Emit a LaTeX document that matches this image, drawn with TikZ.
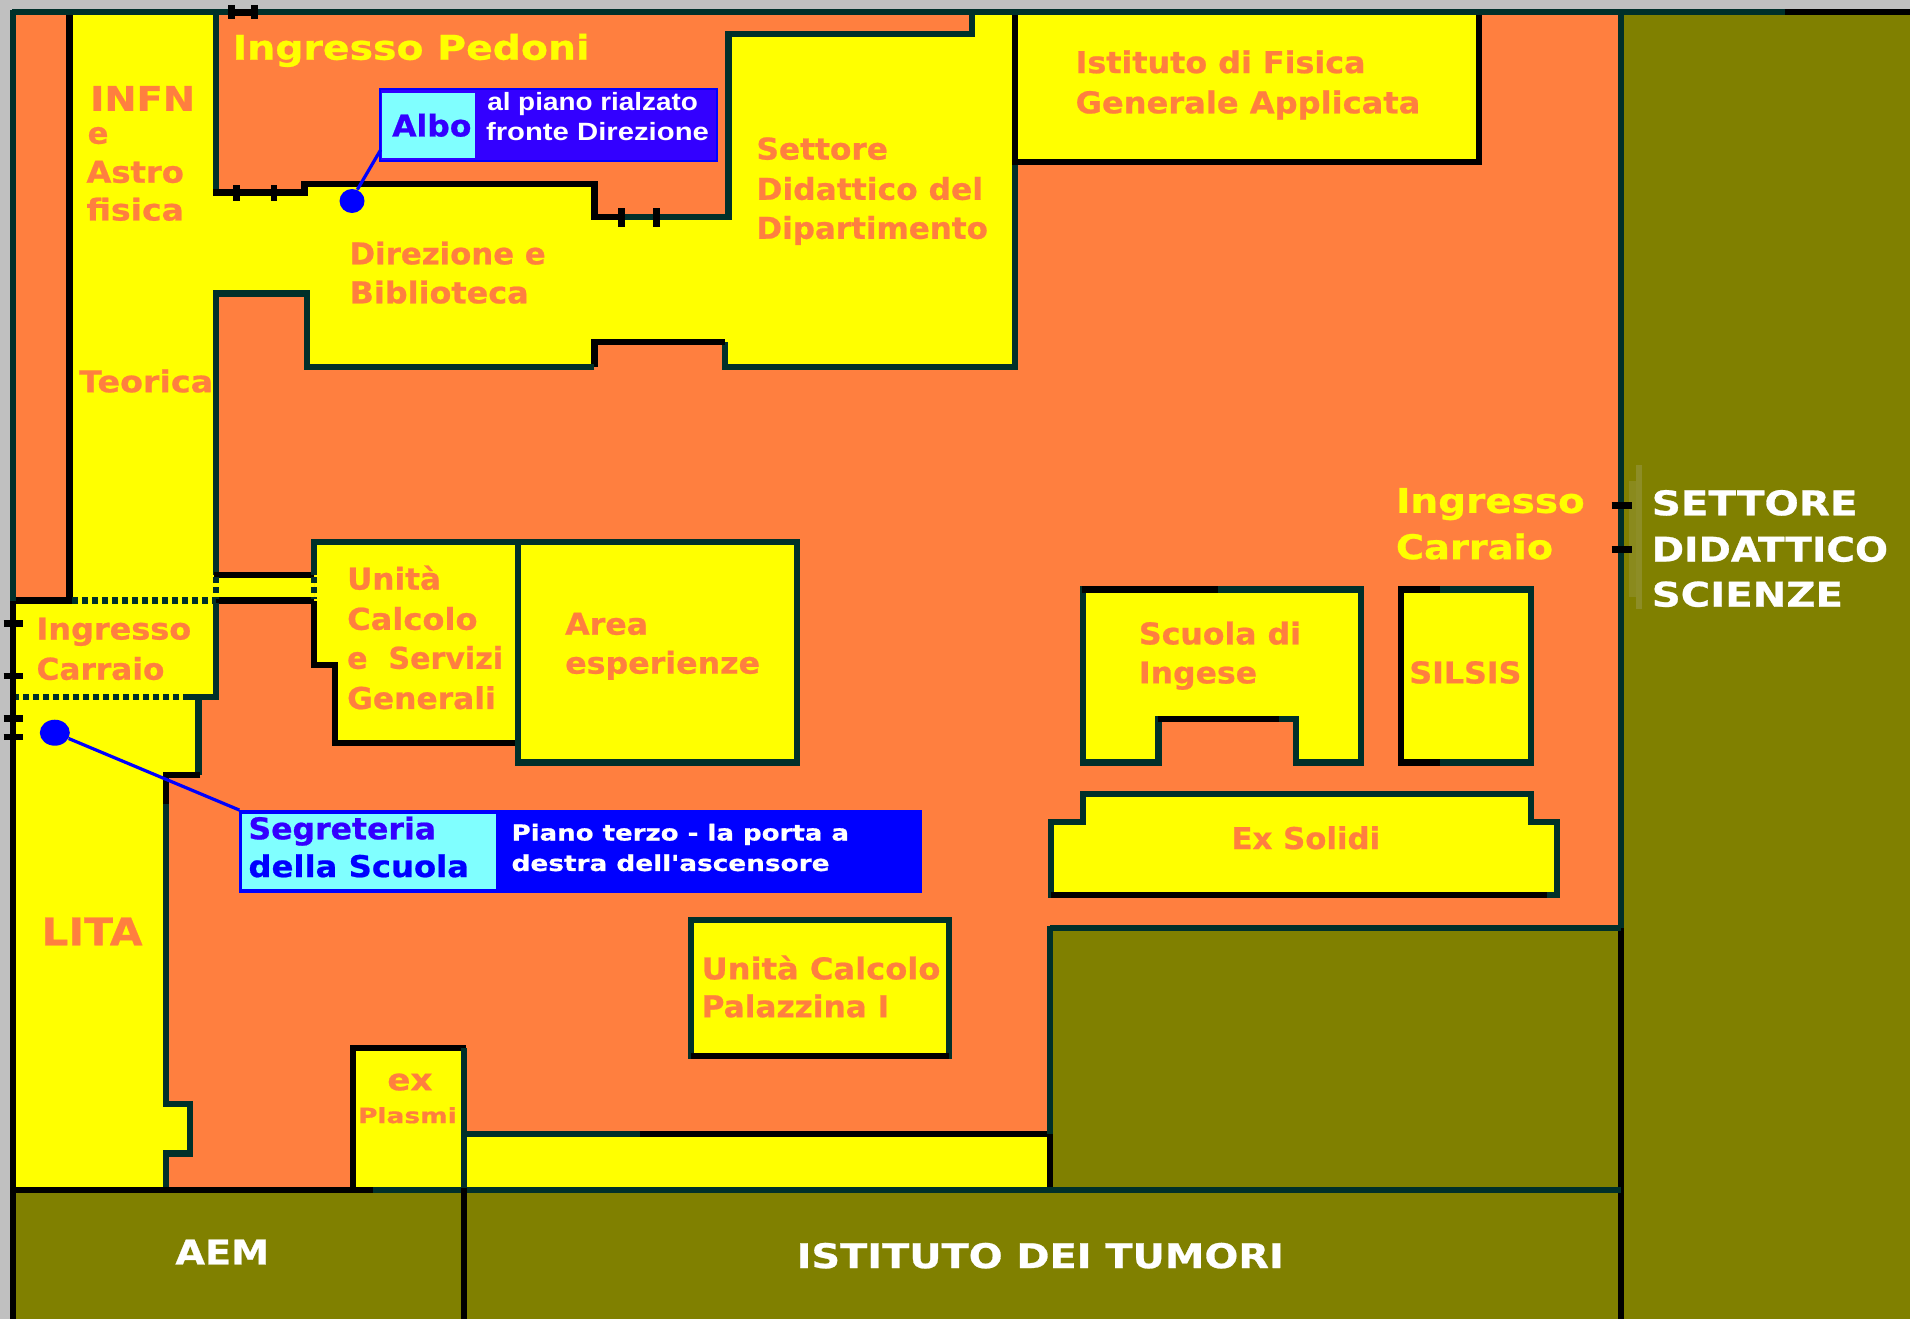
\documentclass[tikz,border=0pt]{standalone}
\usepackage{fontspec}
\usepackage{graphicx}
\usetikzlibrary{shapes.geometric}
\setmainfont{DejaVu Sans}
\newfontfamily\fb{DejaVu Sans}[BoldFont={DejaVu Sans Bold},BoldFeatures={FakeBold=0.7}]
\newfontfamily\fl{Liberation Sans}[BoldFont={Liberation Sans Bold}]
\definecolor{bgor}{HTML}{FF7F3F}
\definecolor{ygl}{HTML}{FFFF00}
\definecolor{olv}{HTML}{808000}
\definecolor{wdk}{HTML}{00302A}
\definecolor{cyn}{HTML}{80FFFF}
\definecolor{blu}{HTML}{0000FF}
\definecolor{vio}{HTML}{3300FF}
\definecolor{gry}{HTML}{C0C0C0}
\newcommand\tor{\fb\bfseries\color{bgor}}
\newcommand\tye{\fb\bfseries\color{ygl}}
\newcommand\twh{\fb\bfseries\color{white}}
\newcommand\tbl{\fb\bfseries\color{blu}}
\newcommand\tvi{\fb\bfseries\color{vio}}
\newcommand\twl{\fl\bfseries\color{white}}
\newsavebox\lbox
\newlength\lwid
% name, font+colour, size(pt), x, baseline y, x2, text
\newcommand\lab[7]{%
  \node[anchor=base west,inner sep=0pt,outer sep=0pt] (#1) at (#4,#5) {%
    \sbox\lbox{\fontsize{#3}{#3}\selectfont#2 #7}%
    \setlength\lwid{\wd\lbox}%
    \pgfmathsetmacro\fitx{(#6-#4)*0.609/\the\lwid}%
    \scalebox{\fitx}[1]{\usebox\lbox}};%
}
\tikzset{
  wall/.style={draw=wdk,line width=3.1pt,line join=miter,line cap=butt},
  bwall/.style={draw=black,line width=3.1pt,line join=miter,line cap=butt},
  dotted wall/.style={draw=wdk,line width=3.1pt,dash pattern=on 3pt off 2pt},
  tick/.style={draw=black,line width=3.4pt},
  bld/.style={fill=ygl},
  lead/.style={draw=blu,line width=1.6pt},
  pin/.style={fill=blu},
}
\begin{document}
\begin{tikzpicture}[x=0.609pt,y=-0.609pt]
\useasboundingbox (0,0) rectangle (1568,1083);
\fill[gry] (0,0) rectangle (1568,1083);
\fill[bgor] (11,10) rectangle (1331,977);
% olive areas
\fill[olv] (1331,10) rectangle (1568,1083);
\fill[olv] (11,977) rectangle (1331,1083);
\fill[olv] (862,762) rectangle (1331,977);
\fill[color=olv!80!gry] (1343,382) rectangle (1348,500);
\fill[color=olv!85!gry] (1337,395) rectangle (1343,490);
% main building fill
\fill[bld] (57,10) -- (177,10) -- (177,158) -- (250,158) -- (250,151) -- (488,151) -- (488,178) -- (598,178) -- (598,28) -- (798,28) -- (798,10) -- (833,10) -- (833,301) -- (595,301) -- (595,281) -- (488,281) -- (488,301) -- (252,301) -- (252,241) -- (177,241) -- (177,472) -- (258,472) -- (258,493) -- (177,493) -- (177,572) -- (163,572) -- (163,636) -- (136,636) -- (136,906) -- (156,906) -- (156,947) -- (136,947) -- (136,977) -- (11,977) -- (11,493) -- (57,493) -- cycle;
% main building walls
\draw[bwall] (57,10) -- (57,493) -- (11,493);
\draw[dotted wall] (59,493) -- (177,493);
\draw[dotted wall] (11,572) -- (150,572);
\draw[wall] (177,10) -- (177,160);
\draw[bwall] (175,158) -- (250,158) -- (250,151) -- (488,151) -- (488,178) -- (510,178);
\draw[wall] (510,178) -- (598,178) -- (598,28) -- (798,28) -- (798,10);
\draw[wall] (833,10) -- (833,301) -- (595,301) -- (595,281);
\draw[bwall] (595,281) -- (488,281) -- (488,301);
\draw[wall] (488,301) -- (252,301) -- (252,241) -- (177,241) -- (177,472);
\draw[bwall] (175.5,472) -- (258,472);
\draw[bwall] (177,493) -- (258,493);
\draw[dotted wall] (177,474) -- (177,492);
\draw[wall] (177,495) -- (177,572) -- (150,572);
\draw[wall] (163,572) -- (163,636);
\draw[bwall] (164.5,636) -- (136,636) -- (136,660);
\draw[wall] (136,660) -- (136,906) -- (156,906) -- (156,947) -- (136,947) -- (136,977);
% Istituto di Fisica
\fill[bld] (833,10) rectangle (1214,133);
\draw[bwall] (833,10) -- (833,133) -- (1214,133) -- (1214,10);
% Unita Calcolo e Servizi
\fill[bld] (258,445) -- (425,445) -- (425,610) -- (275,610) -- (275,546) -- (258,546) -- cycle;
\draw[wall] (258,472) -- (258,445) -- (425,445) -- (425,610);
\draw[bwall] (425,610) -- (275,610) -- (275,546) -- (258,546) -- (258,493);
\draw[dotted wall] (258,474) -- (258,492);
% Area esperienze
\draw[wall,bld] (425,445) rectangle (654,626);
% Scuola di Ingese
\draw[wall,bld] (889,484) -- (1117,484) -- (1117,626) -- (1064,626) -- (1064,590) -- (951,590) -- (951,626) -- (889,626) -- cycle;
\draw[bwall] (888,484) -- (1000,484);
\draw[bwall] (951,590) -- (1050,590);
% SILSIS
\draw[wall,bld] (1150,484) rectangle (1257,626);
\draw[bwall] (1182,484) -- (1150,484) -- (1150,626) -- (1182,626);
% Ex Solidi
\draw[wall,bld] (889,652) -- (1257,652) -- (1257,675) -- (1278,675) -- (1278,735) -- (863,735) -- (863,675) -- (889,675) -- cycle;
\draw[bwall] (863,735) -- (1270,735);
% Unita Calcolo Palazzina
\draw[wall,bld] (567,755) rectangle (779,867);
\draw[bwall] (567,867) -- (779,867);
% ex Plasmi and strip
\fill[bld] (290,860) rectangle (381,977);
\fill[bld] (381,931) rectangle (862,977);
\draw[bwall] (290,977) -- (290,860) -- (382.5,860);
\draw[wall] (381,860) -- (381,977);
\draw[wall] (381,931) -- (525,931);
\draw[bwall] (525,931) -- (862,931);
% outer walls
\draw[wall] (10,10) -- (1568,10);
\draw[wall] (11,8.5) -- (11,493);
\draw[bwall] (11,493) -- (11,1083);
\draw[wall] (1331,10) -- (1331,762);
\draw[bwall] (1331,762) -- (1331,1083);
\draw[wall] (862,762) -- (1331,762);
\draw[wall] (862,760.5) -- (862,931);
\draw[bwall] (862,931) -- (862,977);
\draw[wall] (306,977) -- (1331,977);
\draw[bwall] (11,977) -- (306,977);
\draw[bwall] (381,975) -- (381,1083);
\draw[bwall] (1465,10) -- (1568,10);
% door ticks
\draw[tick] (190,4) -- (190,16) (209,4) -- (209,16) (190,10) -- (209,10);
\draw[tick] (194,152) -- (194,165) (225,152) -- (225,165);
\draw[tick] (510,171) -- (510,186) (539,171) -- (539,186);
\draw[tick] (3,512) -- (19,512) (3,555) -- (19,555) (3,590) -- (19,590) (3,605) -- (19,605);
\draw[tick] (1323,415) -- (1340,415) (1323,451) -- (1340,451);
% Albo box
\coordinate (alboA) at (312,73);
\coordinate (alboB) at (589,132);
\coordinate (alboC) at (312.5,123);
\fill[vio] (alboA) rectangle (alboB);
\draw[blu,line width=1pt] (alboA) rectangle (alboB);
\fill[cyn] (314,76) rectangle (390,130);
\node[pin,ellipse,inner sep=0pt,minimum width=12.5pt,minimum height=12pt] (pinA) at (289,165) {};
\draw[lead] (pinA.65) -- (alboC);
% Segreteria box
\coordinate (segA) at (196.5,665);
\coordinate (segB) at (757,733);
\fill[blu] (segA) rectangle (segB);
\fill[cyn] (198.5,668) rectangle (407,730);
\node[pin,ellipse,inner sep=0pt,minimum width=15pt,minimum height=13pt] (pinB) at (45,601.5) {};
\draw[lead] (pinB) -- (segA);
% labels
\lab{l1}{\tye}{17}{191}{49}{484}{Ingresso Pedoni}
\lab{l2}{\tor}{17}{74}{91}{160}{INFN}
\lab{l3}{\tor}{15}{72}{118}{89}{e}
\lab{l4}{\tor}{15}{71}{150}{151}{Astro}
\lab{l5}{\tor}{15}{71}{181}{151}{fisica}
\lab{l6}{\tor}{15}{65}{322}{175}{Teorica}
\lab{l7}{\tor}{15}{287}{217}{448}{Direzione e}
\lab{l8}{\tor}{15}{287}{249}{434}{Biblioteca}
\lab{l9}{\tor}{15}{621}{131}{729}{Settore}
\lab{l10}{\tor}{15}{621}{164}{807}{Didattico del}
\lab{l11}{\tor}{15}{621}{196}{811}{Dipartimento}
\lab{l12}{\tor}{15}{883}{60}{1121}{Istituto di Fisica}
\lab{l13}{\tor}{15}{883}{93}{1166}{Generale Applicata}
\lab{l14}{\tor}{15}{30}{525}{157}{Ingresso}
\lab{l15}{\tor}{15}{30}{558}{135}{Carraio}
\lab{l16}{\tor}{15}{285}{484}{362}{Unità}
\lab{l17}{\tor}{15}{285}{517}{392}{Calcolo}
\lab{l18}{\tor}{15}{285}{549}{413}{e\ \ Servizi}
\lab{l19}{\tor}{15}{285}{582}{407}{Generali}
\lab{l20}{\tor}{15}{464}{521}{532}{Area}
\lab{l21}{\tor}{15}{464}{553}{624}{esperienze}
\lab{l22}{\tye}{17}{1146}{421}{1301}{Ingresso}
\lab{l23}{\tye}{17}{1146}{459}{1275}{Carraio}
\lab{l24}{\twh}{17}{1356}{423}{1525}{SETTORE}
\lab{l25}{\twh}{17}{1356}{461}{1550}{DIDATTICO}
\lab{l26}{\twh}{17}{1356}{498}{1513}{SCIENZE}
\lab{l27}{\tor}{15}{935}{529}{1068}{Scuola di}
\lab{l28}{\tor}{15}{935}{561}{1032}{Ingese}
\lab{l29}{\tor}{15}{1157}{561}{1249}{SILSIS}
\lab{l30}{\tor}{15}{1011}{697}{1133}{Ex Solidi}
\lab{l31}{\tor}{19}{34}{776}{117}{LITA}
\lab{l32}{\tor}{15}{576}{804}{772}{Unità Calcolo}
\lab{l33}{\tor}{15}{576}{835}{730}{Palazzina I}
\lab{l34}{\tor}{15}{318}{895}{355}{ex}
\lab{l35}{\tor}{10.5}{294}{922}{375}{Plasmi}
\lab{l36}{\twh}{17}{144}{1038}{221}{AEM}
\lab{l37}{\twh}{17}{654}{1041}{1054}{ISTITUTO DEI TUMORI}
\lab{l38}{\tvi}{15}{322}{112}{387}{Albo}
\lab{l39}{\twl}{12.5}{400}{91}{573}{al piano rialzato}
\lab{l40}{\twl}{12.5}{399}{115}{582}{fronte Direzione}
\lab{l41}{\tvi}{15}{204}{689}{358}{Segreteria}
\lab{l42}{\tbl}{15}{204}{720}{385}{della Scuola}
\lab{l43}{\twh}{11}{420}{690}{697}{Piano terzo - la porta a}
\lab{l44}{\twh}{11}{420}{715}{681}{destra dell'ascensore}
\end{tikzpicture}
\end{document}
